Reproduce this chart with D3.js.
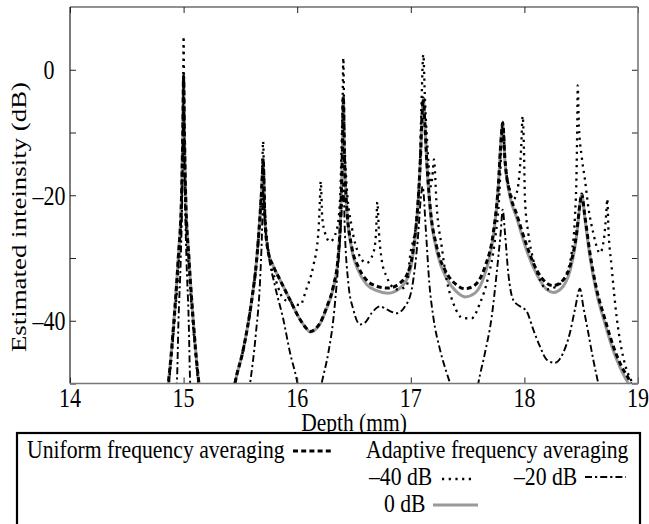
<!DOCTYPE html>
<html><head><meta charset="utf-8">
<script src="https://cdn.jsdelivr.net/npm/d3@7"></script>
<style>
html,body{margin:0;padding:0;background:#fff;}
text{font-family:"Liberation Serif","Times New Roman",serif;fill:#000;}
</style></head>
<body><svg id="chart" width="649" height="524"></svg>
<script>
// ---------- data ----------
const xTicks = [14, 15, 16, 17, 18, 19];
const xTickLabels = ["14", "15", "16", "17", "18", "19"];
const yTicks = [-50, -40, -30, -20, -10, 0];
const yLabelTicks = [-40, -20, 0];
const yTickLabels = ["\u201340", "\u201320", "0"];

const uniformX = [14.80,14.865,14.915,14.953,14.982,14.993,15.0,15.007,15.018,15.047,15.085,15.135,15.2,
  15.40,15.452,15.525,15.60,15.643,15.672,15.693,15.70,15.716,15.745,15.79,15.849,15.937,16.025,16.08,16.113,16.16,16.20,16.26,16.318,16.362,16.383,16.398,16.406,
  16.415,16.436,16.48,16.538,16.61,16.70,16.80,16.905,16.993,17.03,17.06,17.085,17.10,17.11,17.125,17.14,17.17,17.228,17.316,17.404,17.477,17.565,17.653,17.726,17.77,17.795,17.809,
  17.829,17.873,17.932,18.02,18.108,18.196,18.254,18.342,18.416,18.46,18.49,18.504,18.533,18.577,18.636,18.71,18.783,18.856,18.93,18.98];
const uniformDB = [-56,-50,-40,-30,-20,-10,-1,-10,-20,-30,-40,-50,-56,
  -56,-50,-44.6,-36.7,-30.3,-23.4,-17,-14.2,-23.9,-29,-31.3,-33.5,-36.7,-39.8,-41.2,-41.7,-41.3,-40.4,-37.8,-34.5,-29.5,-23,-13,-4.3,
  -13,-21.8,-28.2,-31.4,-33.5,-34.5,-34.8,-34,-31.4,-27.5,-22,-14,-7,-4.5,-9,-14.3,-21.8,-28.2,-32.4,-34.3,-34.9,-34.3,-31.4,-26,-18.6,-11,-8.5,
  -14.3,-19.7,-23,-28,-31.9,-34,-34.4,-33.5,-30.3,-26,-21.2,-19.8,-23.4,-29.2,-35,-39.8,-44.1,-47.3,-49.7,-52];

const zeroDbX = uniformX;
const zeroDbDB = [-56,-50,-40,-30,-20,-10,-1,-10,-20,-30,-40,-50,-56,
  -56,-50,-44.6,-36.7,-30.3,-23.4,-17,-14.2,-23.9,-29,-31.3,-33.5,-36.7,-39.8,-41.2,-41.8,-41.4,-40.5,-38,-34.8,-29.8,-23,-13,-4.3,
  -13,-22,-28.6,-32,-34.2,-35.2,-35.6,-34.8,-32,-28,-22.5,-14,-7,-4.5,-9,-14.6,-22.2,-28.8,-33.3,-35.4,-36.2,-35.6,-32.5,-26.6,-18.8,-11,-8.5,
  -14.6,-20.2,-23.6,-28.8,-32.6,-35,-35.5,-34.5,-31,-26.4,-21.4,-19.9,-23.8,-29.8,-35.6,-40.5,-44.8,-48,-50.6,-53];

const minus40X = [14.80,14.87,14.92,14.96,14.985,14.995,15.0,15.005,15.015,15.04,15.08,15.13,15.2,
  15.40,15.452,15.525,15.60,15.643,15.672,15.69,15.70,15.71,15.745,15.82,15.878,15.937,16.025,16.08,16.14,16.186,16.20,16.207,16.22,16.245,16.289,16.348,16.377,16.39,16.40,16.406,
  16.415,16.436,16.48,16.538,16.61,16.67,16.694,16.705,16.72,16.744,16.788,16.876,16.964,16.993,17.052,17.08,17.095,17.11,17.125,17.154,17.175,17.19,17.204,
  17.228,17.272,17.316,17.374,17.462,17.536,17.609,17.682,17.741,17.78,17.80,17.809,17.829,17.87,17.902,17.94,17.97,17.985,17.996,18.005,18.034,18.078,18.137,18.196,
  18.284,18.357,18.416,18.445,18.46,18.466,18.469,18.48,18.504,18.533,18.562,18.606,18.665,18.70,18.72,18.73,18.739,18.768,18.812,18.856,18.90,18.944,19.0];
const minus40DB = [-56,-50,-40,-30,-20,-8,5.3,-8,-20,-30,-40,-50,-56,
  -56,-50,-44.6,-36.7,-30.3,-23.4,-17,-11.4,-19,-28.7,-34,-36.5,-37,-37.5,-35,-31.4,-26,-20.7,-17.8,-23.4,-26,-27.4,-25.5,-20.7,-12.7,-4.8,1.9,
  -10,-18.6,-25,-29.2,-30.8,-29.2,-26,-21.1,-26,-30.3,-33,-35,-34.5,-29.8,-23.4,-15.4,-4.8,2.4,-4.8,-14.3,-18.6,-17,-14.3,
  -21.8,-28.2,-33.5,-37.2,-39.6,-39.6,-37.2,-33,-27.1,-19.7,-11.2,-8.3,-14.3,-19,-20.7,-19,-13,-7.4,-12.7,-20.7,-26,-30.3,-33.5,-35,
  -34.5,-33,-29.2,-23.4,-15.4,-7.4,-2.5,-9,-13.8,-17.5,-21.8,-26,-29.2,-27,-23,-20.6,-25,-31.4,-39.4,-44.6,-47.8,-49.7,-52];

const minus20X = [14.85,14.94,14.955,14.975,14.99,15.0,15.01,15.025,15.045,15.058,15.10,
  15.50,15.585,15.637,15.672,15.69,15.70,15.715,15.746,15.805,15.878,15.937,15.996,16.05,16.15,16.215,16.274,16.318,16.348,16.377,16.397,16.406,
  16.42,16.45,16.494,16.553,16.597,16.655,16.729,16.788,16.876,16.95,17.008,17.037,17.066,17.087,17.104,17.134,17.163,17.198,17.257,17.316,17.35,17.45,
  17.55,17.594,17.653,17.712,17.756,17.791,17.809,17.829,17.858,17.902,17.961,18.02,18.078,18.137,18.196,18.269,18.342,18.401,18.445,18.489,18.518,18.562,18.606,18.65,18.70];
const minus20DB = [-58,-50,-40,-30,-18,-1,-18,-30,-40,-50,-58,
  -58,-50,-41.9,-34,-26,-19,-24,-29.2,-34.5,-39.8,-45.1,-49.4,-55,-56,-50,-45.1,-39.8,-34,-27.1,-20.7,-18.1,
  -26,-34,-38.2,-40.6,-40.3,-38.8,-37.7,-38.2,-38.8,-37.7,-35,-31.4,-26,-20.7,-18.6,-26,-34,-39.4,-44.6,-48.3,-50.2,-56,
  -55,-50,-45.1,-39.4,-32.4,-26,-22.3,-26,-32.4,-36.7,-37.7,-38.5,-41.4,-44.1,-46.2,-46.7,-45.1,-41.9,-38.2,-34.9,-37.7,-41.9,-46.2,-50,-55];

const seriesNames = ["Uniform frequency averaging", "Adaptive frequency averaging", "\u201340 dB", "\u201320 dB", "0 dB"];

// ---------- layout ----------
const svg = d3.select("#chart");
const L = 70, R = 638, T = 7, B = 383.5;
const x = d3.scaleLinear().domain([14, 19]).range([L, R]);
const y = d3.scaleLinear().domain([-50, 10]).range([B, T]);
const VS = 1.25; // vertical stretch of glyphs in the reference
const VS_LEG = 1.12;

const styles = {
  uniform: {stroke: "#000", width: 3, dash: "5,3.2"},
  m40: {stroke: "#000", width: 2.3, dash: "2.2,4.5"},
  m20: {stroke: "#000", width: 1.9, dash: "7,3,2.2,3"},
  zero: {stroke: "#9a9a9a", width: 3, dash: null}
};

svg.append("defs").append("clipPath").attr("id", "clip")
  .append("rect").attr("x", L).attr("y", T).attr("width", R - L).attr("height", B - T);

const line = d3.line().x(d => x(d[0])).y(d => y(d[1])).curve(d3.curveMonotoneX);
const zip = (a, b) => a.map((v, i) => [v, b[i]]);

const g = svg.append("g").attr("clip-path", "url(#clip)");
function drawSeries(xs, ys, st) {
  g.append("path").datum(zip(xs, ys)).attr("d", line)
    .attr("fill", "none").attr("stroke", st.stroke).attr("stroke-width", st.width)
    .attr("stroke-dasharray", st.dash).attr("stroke-linejoin", "round");
}
drawSeries(zeroDbX, zeroDbDB, styles.zero);
drawSeries(minus20X, minus20DB, styles.m20);
drawSeries(minus40X, minus40DB, styles.m40);
drawSeries(uniformX, uniformDB, styles.uniform);

// ---------- axes (inward ticks on all sides) ----------
const ax = svg.append("g");
ax.append("g").attr("transform", `translate(0,${B})`)
  .call(d3.axisBottom(x).tickValues(xTicks).tickSize(-6).tickFormat(""));
ax.append("g").attr("transform", `translate(0,${T})`)
  .call(d3.axisTop(x).tickValues(xTicks).tickSize(-6).tickFormat(""));
ax.append("g").attr("transform", `translate(${L},0)`)
  .call(d3.axisLeft(y).tickValues(yTicks).tickSize(-6).tickFormat(""));
ax.append("g").attr("transform", `translate(${R},0)`)
  .call(d3.axisRight(y).tickValues(yTicks).tickSize(-6).tickFormat(""));
ax.selectAll(".domain").remove();
ax.selectAll(".tick line").attr("stroke", "#222").attr("stroke-width", 1);
// frame
svg.append("line").attr("x1", L).attr("x2", R).attr("y1", T).attr("y2", T).attr("stroke", "#222").attr("stroke-width", 1.2);
svg.append("line").attr("x1", L).attr("x2", L).attr("y1", T).attr("y2", B).attr("stroke", "#222").attr("stroke-width", 1.2);
svg.append("line").attr("x1", L).attr("x2", R).attr("y1", B).attr("y2", B).attr("stroke", "#777").attr("stroke-width", 1.6);
svg.append("line").attr("x1", R).attr("x2", R).attr("y1", T).attr("y2", B).attr("stroke", "#777").attr("stroke-width", 1.6);

function stretchedText(parent, tx, ty, str, size, anchor, vs) {
  return parent.append("text")
    .attr("transform", `translate(${tx},${ty}) scale(1,${vs || VS})`)
    .attr("text-anchor", anchor || "start")
    .style("font-size", size + "px").text(str);
}

xTicks.forEach((v, i) => stretchedText(svg, x(v), 407, xTickLabels[i], 22, "middle"));
yLabelTicks.forEach((v, i) => stretchedText(svg, 49, y(v) + 9.5, yTickLabels[i], 22, "middle"));

stretchedText(svg, (L + R) / 2, 431, "Depth (mm)", 21.5, "middle", 1.15);
svg.append("text")
  .attr("transform", `translate(26,217) rotate(-90) scale(1.28,1)`)
  .attr("text-anchor", "middle").style("font-size", "21px")
  .text("Estimated inteinsity (dB)");

// ---------- legend ----------
svg.append("rect").attr("x", 17).attr("y", 433).attr("width", 623).attr("height", 110)
  .attr("fill", "#fff").attr("stroke", "#000").attr("stroke-width", 2.2);

stretchedText(svg, 27, 458, seriesNames[0], 21.7, "start", VS_LEG);
stretchedText(svg, 366, 458, seriesNames[1], 21.7, "start", VS_LEG);
stretchedText(svg, 369, 485, seriesNames[2], 21.7, "start", VS_LEG);
stretchedText(svg, 514, 485, seriesNames[3], 21.7, "start", VS_LEG);
stretchedText(svg, 384, 512, seriesNames[4], 21.7, "start", VS_LEG);

function legendLine(x1, x2, yy, st) {
  svg.append("line").attr("x1", x1).attr("x2", x2).attr("y1", yy).attr("y2", yy)
    .attr("stroke", st.stroke).attr("stroke-width", st.width).attr("stroke-dasharray", st.dash);
}
legendLine(293, 332, 451, styles.uniform);
legendLine(442, 474, 479, styles.m40);
legendLine(585, 626, 477, styles.m20);
legendLine(433, 478, 505, styles.zero);
</script></body></html>
